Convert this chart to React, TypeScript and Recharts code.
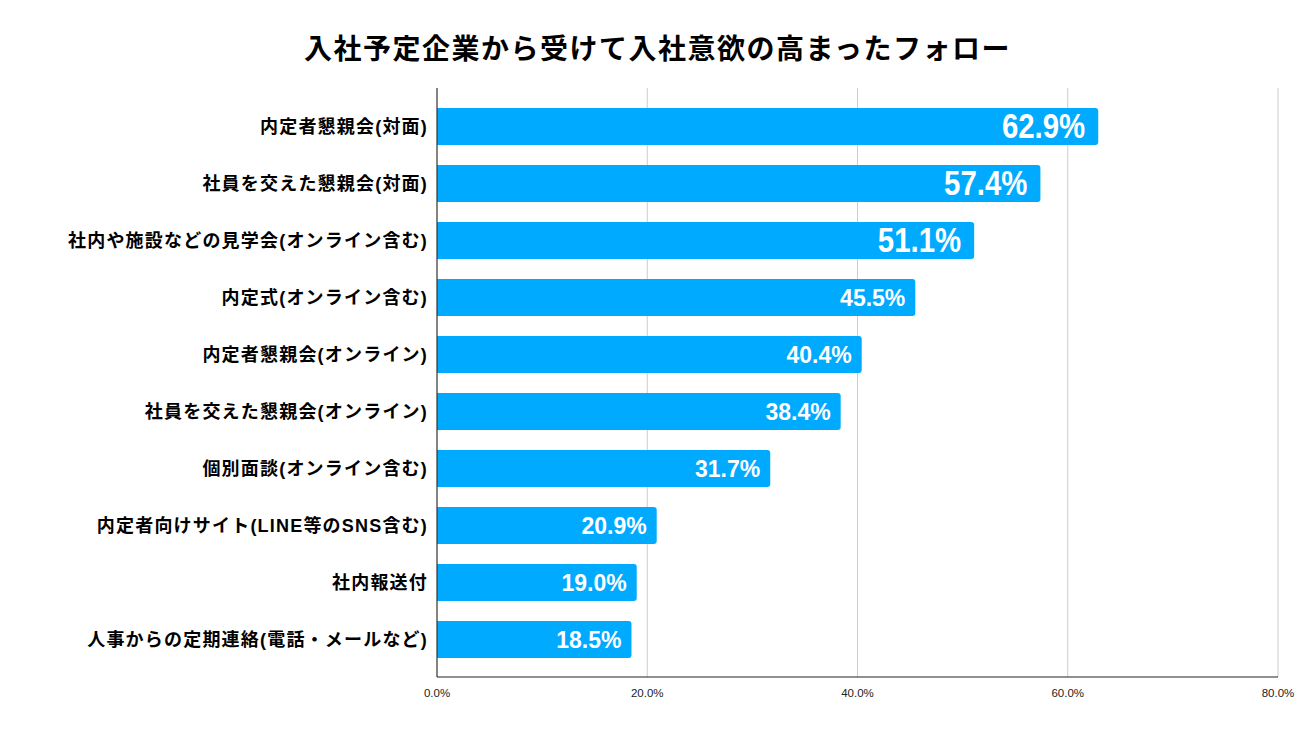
import { Bar, BarChart, CartesianGrid, LabelList, XAxis, YAxis } from "recharts";

const categories = [
  "内定者懇親会(対面)",
  "社員を交えた懇親会(対面)",
  "社内や施設などの見学会(オンライン含む)",
  "内定式(オンライン含む)",
  "内定者懇親会(オンライン)",
  "社員を交えた懇親会(オンライン)",
  "個別面談(オンライン含む)",
  "内定者向けサイト(LINE等のSNS含む)",
  "社内報送付",
  "人事からの定期連絡(電話・メールなど)",
];

const values = [62.9, 57.4, 51.1, 45.5, 40.4, 38.4, 31.7, 20.9, 19.0, 18.5];

const xTicks = [0, 20, 40, 60, 80];

const data = categories.map((name, i) => ({ name, value: values[i] }));

const FONT = '"Liberation Sans", Arial, "Noto Sans CJK JP", sans-serif';

const ValueLabel = (props: any) => {
  const { x, y, width, height, value, index } = props;
  const big = index < 3;
  const ax = x + width - (big ? 13 : 10);
  const ay = y + height / 2;
  return (
    <text
      x={0}
      y={0}
      transform={`translate(${ax},${ay}) scale(${big ? 0.84 : 1},1)`}
      textAnchor="end"
      dominantBaseline="central"
      fill="#fff"
      fontWeight="bold"
      fontSize={big ? 35 : 23}
      fontFamily={FONT}
    >
      {Number(value).toFixed(1) + "%"}
    </text>
  );
};

const App = () => {
  return (
    <div style={{ position: "absolute", left: 0, top: 0, width: 1315, height: 747, background: "#fff" }}>
      <div
        style={{
          position: "absolute",
          left: 0,
          top: 33,
          width: 1315,
          textAlign: "center",
          fontFamily: FONT,
          fontWeight: "bold",
          fontSize: 28,
          letterSpacing: 1.5,
          lineHeight: "34px",
          color: "#000",
        }}
      >
        入社予定企業から受けて入社意欲の高まったフォロー
      </div>
      <BarChart
        width={1315}
        height={747}
        data={data}
        layout="vertical"
        margin={{ top: 88, right: 37, left: 0, bottom: 40 }}
      >
        <CartesianGrid horizontal={false} stroke="#cccccc" />
        <XAxis
          type="number"
          domain={[0, 80]}
          ticks={xTicks}
          tickFormatter={(v: number) => v.toFixed(1) + "%"}
          axisLine={{ stroke: "#222" }}
          tickLine={false}
          tickMargin={6}
          height={30}
          tick={{ fontSize: 11.5, fill: "#222", fontFamily: FONT }}
          interval={0}
        />
        <YAxis
          type="category"
          dataKey="name"
          width={437}
          axisLine={{ stroke: "#222" }}
          tickLine={false}
          tickMargin={3}
          padding={{ top: 10, bottom: 9 }}
          interval={0}
          tick={{
            fontSize: 18,
            fill: "#000",
            fontWeight: "bold",
            fontFamily: FONT,
            letterSpacing: 1.2,
          }}
        />
        <Bar
          dataKey="value"
          fill="#00aaff"
          barSize={37}
          radius={[0, 3, 3, 0]}
          isAnimationActive={false}
        >
          <LabelList dataKey="value" content={ValueLabel} />
        </Bar>
      </BarChart>
    </div>
  );
};

export default App;
